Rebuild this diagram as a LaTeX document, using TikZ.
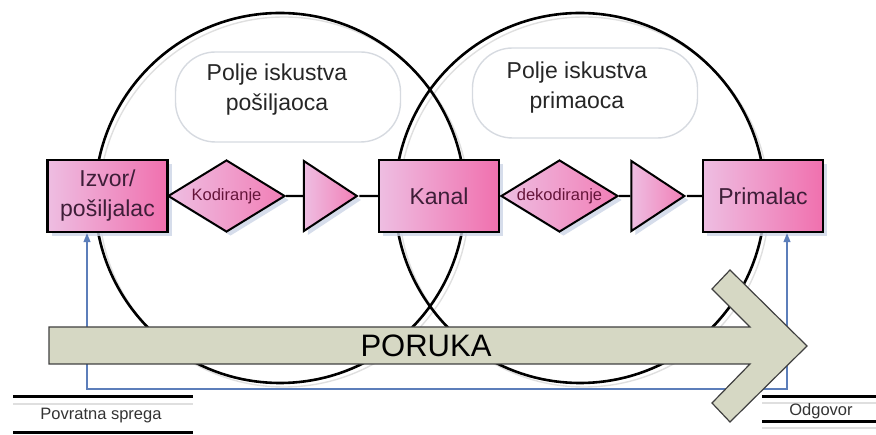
\documentclass[tikz,border=0pt]{standalone}
\usepackage{fontspec}
\setmainfont{Liberation Sans}
\usetikzlibrary{shapes.geometric,arrows.meta,shadows}
\definecolor{pinklight}{RGB}{238,190,226}
\definecolor{pinkdark}{RGB}{240,112,174}
\definecolor{fieldgray}{RGB}{214,218,224}
\definecolor{fbblue}{RGB}{92,126,186}
\definecolor{msgfill}{RGB}{214,216,196}
\definecolor{plum}{RGB}{62,30,56}
\definecolor{shadowblue}{RGB}{204,212,230}
\begin{document}
\begin{tikzpicture}[
	x=1pt,y=-1pt,
	font=\fontsize{23}{30}\selectfont,
	grow'=right,
	level 1/.style={level distance=119pt},
	level 2/.style={level distance=96.2pt},
	level 3/.style={level distance=116.3pt},
	level 4/.style={level distance=120.5pt},
	level 5/.style={level distance=90.7pt},
	level 6/.style={level distance=112.8pt},
	edge from parent/.style={draw,line width=2.4pt},
	sh/.style={drop shadow={shadow xshift=4pt,shadow yshift=-4pt,fill=shadowblue,opacity=0.8}},
	bx/.style={rectangle,draw,line width=2.4pt,left color=pinklight,right color=pinkdark,minimum width=120pt,minimum height=72pt,align=center,text=plum,sh},
	dm/.style={diamond,draw,line width=2pt,left color=pinklight,right color=pinkdark!90,minimum width=117pt,minimum height=72pt,inner sep=0pt,aspect=1.6,font=\fontsize{16.5}{20}\selectfont,text=plum!70!purple,sh},
	tr/.style={isosceles triangle,isosceles triangle stretches,draw,line width=2pt,left color=pinklight,right color=pinkdark!90,minimum width=70pt,minimum height=53pt,inner sep=0pt,sh},
	fd/.style={rectangle,rounded corners=40pt,draw=fieldgray,line width=1.4pt,minimum width=225pt,minimum height=90pt},
	ft/.style={align=center,text=black!85},
	cr/.style={line width=2.6pt},
	crs/.style={line width=1.4pt,draw=gray!25},
	fb/.style={draw=fbblue,line width=1.2pt,{Triangle[length=9pt,width=7pt]}-{Triangle[length=9pt,width=7pt]}},
	ms/.style={draw=black!75,line width=1.2pt,fill=msgfill},
	lb/.style={font=\fontsize{16.5}{20}\selectfont,text=black!80},
	rl/.style={line width=3pt},
	rls/.style={line width=1.5pt,draw=gray!25},
	]
\useasboundingbox (0,0) rectangle (876,435);
\draw[crs] (284,202) circle (185);
\draw[crs] (584,202) circle (185);
\draw[cr] (280,198) circle (185);
\draw[cr] (580,198) circle (185);
\node [fd] (fieldS) at (288,97) {};
\node [ft] (fieldStext) at (277,90) {Polje iskustva\\pošiljaoca};
\node [fd] (fieldP) at (585,93) {};
\node [ft] (fieldPtext) at (577,88) {Polje iskustva\\primaoca};
\node (izvor) [bx] at (107.5,196) {Izvor/\\pošiljalac}
	child { node (kod) [dm] {Kodiranje}
		child { node (tri1) [tr] {}
			child { node (kanal) [bx] {Kanal}
				child { node (dekod) [dm] {dekodiranje}
					child { node (tri2) [tr] {}
						child { node (primalac) [bx] {Primalac}
						}
					}
				}
			}
		}
	}
;
\coordinate (fbL) at (87,389);
\coordinate (fbR) at (787,389);
\draw[fb] (izvor.south -| fbL) -- (fbL) -- (fbR) -- (primalac.south -| fbR);
\draw[ms] (49,327) -- (750,327) -- (712,289) -- (730,270) -- (807,346) -- (730,422) -- (712,403) -- (750,364) -- (49,364) -- cycle;
\node (poruka) at (426,346) {\fontsize{31}{36}\selectfont PORUKA};
\draw[rls] (13,404) -- (193,404);
\draw[rl] (13,397) -- (193,397);
\draw[rl] (13,433) -- (193,433);
\node [lb] (povratna) at (101,416) {Povratna sprega};
\draw[rls] (762,403) -- (876,403);
\draw[rls] (762,428) -- (876,428);
\draw[rl] (762,397) -- (876,397);
\draw[rl] (762,422) -- (876,422);
\node [lb] (odgovor) at (821,411) {Odgovor};
\end{tikzpicture}
\end{document}
